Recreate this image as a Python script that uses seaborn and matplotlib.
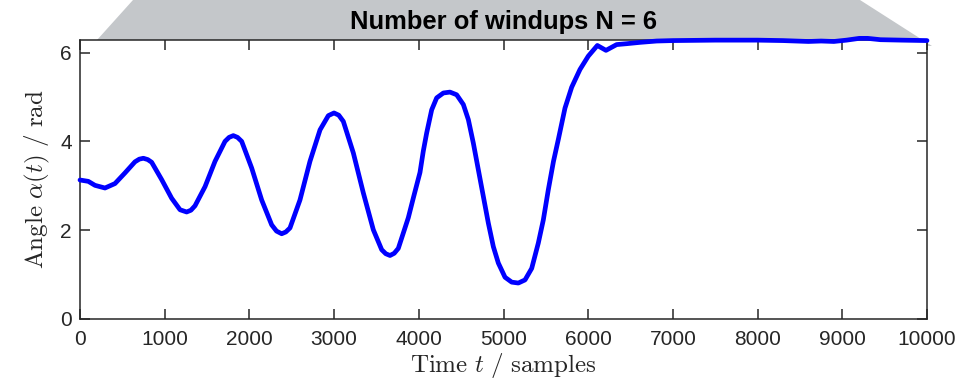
import numpy as np
import pandas as pd
import matplotlib
matplotlib.use("Agg")
import matplotlib.pyplot as plt
from matplotlib.patches import Polygon
import seaborn as sns

# ---- data ----
t_samples = [0, 98, 177, 295, 413, 531, 649, 700, 748, 800, 846, 964,
             1082, 1181, 1259, 1310, 1358, 1476, 1594, 1712, 1760, 1810, 1860, 1909, 2027,
             2145, 2263, 2320, 2381, 2430, 2479, 2597, 2715, 2834, 2932, 2999, 3055, 3109,
             3227, 3345, 3463, 3562, 3610, 3660, 3710, 3758, 3876, 3940,
             4014, 4053, 4093, 4152, 4211, 4290, 4368, 4447, 4526, 4585,
             4644, 4703, 4762, 4821, 4880, 4939, 5018, 5097, 5175, 5254,
             5333, 5411, 5470, 5529, 5590, 5648, 5726, 5805, 5903, 6001,
             6108, 6210, 6336, 6454, 6612, 6808, 7000, 7500, 8000, 8300,
             8600, 8750, 8900, 9050, 9200, 9300, 9450, 9700, 10000]
angle = [3.13, 3.10, 3.01, 2.95, 3.05, 3.29, 3.54, 3.60, 3.62, 3.59, 3.53, 3.14,
         2.72, 2.46, 2.41, 2.45, 2.55, 2.98, 3.55, 4.00, 4.09, 4.13, 4.09, 4.00, 3.40,
         2.68, 2.12, 1.98, 1.92, 1.96, 2.05, 2.68, 3.55, 4.26, 4.58, 4.64, 4.59, 4.45,
         3.74, 2.84, 2.01, 1.56, 1.47, 1.43, 1.48, 1.59, 2.28, 2.76,
         3.30, 3.78, 4.19, 4.71, 4.98, 5.09, 5.11, 5.05, 4.83, 4.49,
         3.96, 3.36, 2.76, 2.16, 1.63, 1.26, 0.94, 0.83, 0.81, 0.88,
         1.14, 1.71, 2.23, 2.91, 3.55, 4.05, 4.75, 5.22, 5.62, 5.92,
         6.16, 6.05, 6.18, 6.20, 6.23, 6.26, 6.27, 6.28, 6.28, 6.27,
         6.25, 6.26, 6.25, 6.28, 6.32, 6.32, 6.29, 6.28, 6.27]
x_ticks = [0, 1000, 2000, 3000, 4000, 5000, 6000, 7000, 8000, 9000, 10000]
y_ticks = [0, 2, 4, 6]
title_text = "Number of windups N = 6"
x_label = r"$\mathrm{Time}\ t\ /\ \mathrm{samples}$"
y_label = r"$\mathrm{Angle}\ \alpha(t)\ /\ \mathrm{rad}$"

df = pd.DataFrame({"t": t_samples, "alpha": angle})

sns.set_theme(style="ticks")
plt.rcParams["font.family"] = ["Liberation Sans", "DejaVu Sans"]
plt.rcParams["mathtext.fontset"] = "cm"

W, H = 973, 385
fig = plt.figure(figsize=(W / 100, H / 100), dpi=100)
fig.patch.set_facecolor("white")

# grey banner polygon (pixel coords -> figure fraction)
poly_px = [(97, 40), (133, 0), (860, 0), (932, 46)]
poly = Polygon([(x / W, 1 - y / H) for x, y in poly_px], closed=True,
               transform=fig.transFigure, facecolor="#c4c7ca",
               edgecolor="none", zorder=-5)
fig.patches.append(poly)

ax_l, ax_r, ax_t, ax_b = 80, 927, 40, 319
ax = fig.add_axes([ax_l / W, 1 - ax_b / H, (ax_r - ax_l) / W, (ax_b - ax_t) / H])
ax.set_zorder(1)
ax.set_facecolor("white")

sns.lineplot(data=df, x="t", y="alpha", ax=ax, color=(0, 0, 1),
             linewidth=3.4, clip_on=False, zorder=5)
for ln in ax.get_lines():
    ln.set_solid_joinstyle("round")
    ln.set_solid_capstyle("round")

ax.set_xlim(0, 10000)
ax.set_ylim(0, 2 * np.pi)
ax.set_xticks(x_ticks)
ax.set_yticks(y_ticks)
ax.set_xticklabels([str(v) for v in x_ticks])
ax.set_yticklabels([str(v) for v in y_ticks])

for s in ax.spines.values():
    s.set_visible(True)
    s.set_color("#262626")
    s.set_linewidth(1.1)
ax.tick_params(axis="both", which="both", direction="in", length=7,
               width=1.1, color="#262626", top=True, right=True,
               labelsize=15, labelcolor="#262626")
ax.tick_params(axis="x", pad=8)
ax.tick_params(axis="y", pad=6)

ax.set_xlabel(x_label, fontsize=18, color="#262626", labelpad=1)
ax.set_ylabel(y_label, fontsize=18, color="#262626", labelpad=6)

fig.text((ax_l + ax_r) / 2 / W, 1 - 28.5 / H, title_text, ha="center",
         va="baseline", fontsize=18.4, fontweight="bold", color="black",
         family=["Liberation Sans", "DejaVu Sans"])

fig.savefig("out.png", dpi=100)
